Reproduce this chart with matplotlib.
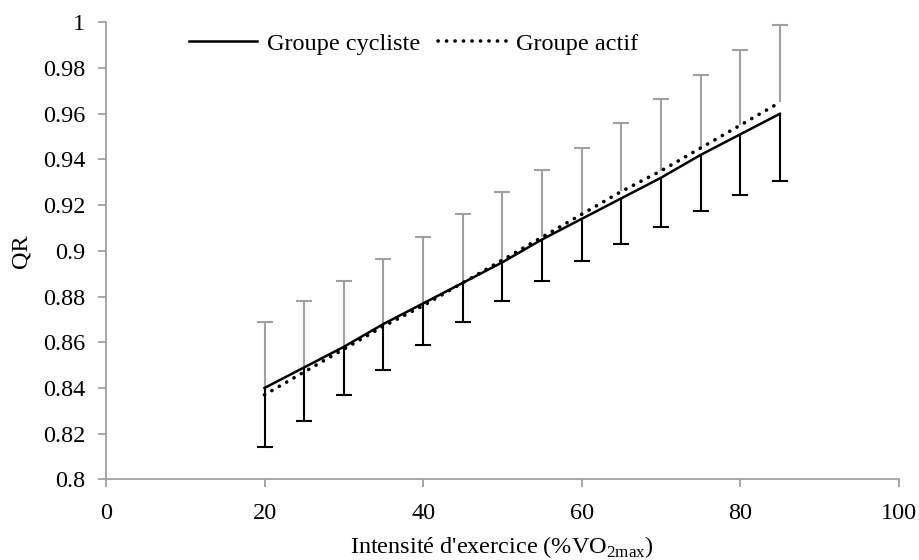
import matplotlib
matplotlib.use("Agg")

import matplotlib.pyplot as plt
from matplotlib.lines import Line2D

plt.rcParams["font.family"] = "Liberation Serif"
plt.rcParams["mathtext.fontset"] = "custom"
plt.rcParams["mathtext.rm"] = "Liberation Serif"

# Data
intensite = [20, 25, 30, 35, 40, 45, 50, 55, 60, 65, 70, 75, 80, 85]
qr_cycliste = [0.840, 0.849, 0.858, 0.868, 0.877, 0.886, 0.895,
               0.905, 0.914, 0.923, 0.932, 0.942, 0.951, 0.960]
qr_actif = [0.837, 0.847, 0.857, 0.867, 0.876, 0.886, 0.896,
            0.906, 0.916, 0.926, 0.935, 0.945, 0.955, 0.965]
sd_cycliste = [0.026, 0.0235, 0.021, 0.020, 0.018, 0.017, 0.017,
               0.018, 0.0185, 0.020, 0.0216, 0.0245, 0.0266, 0.0292]
sd_actif = [0.032, 0.031, 0.030, 0.0296, 0.030, 0.030, 0.0297,
            0.0294, 0.029, 0.030, 0.0315, 0.032, 0.033, 0.034]

fig = plt.figure(figsize=(9.19, 5.6), dpi=100)
ax = fig.add_axes([0.1153, 0.144, 0.8627, 0.816])

gray = "#A0A0A0"

# one-sided error bars: actif upward (gray), cycliste downward (black)
top_actif = [m + s for m, s in zip(qr_actif, sd_actif)]
bot_cycliste = [m - s for m, s in zip(qr_cycliste, sd_cycliste)]
ax.vlines(intensite, qr_actif, top_actif, color=gray, linewidth=1.5, zorder=2)
ax.plot(intensite, top_actif, linestyle="none", marker="_", markersize=12,
        markeredgewidth=1.5, color=gray, zorder=2)
ax.vlines(intensite, bot_cycliste, qr_cycliste, color="black", linewidth=1.5,
          zorder=2)
ax.plot(intensite, bot_cycliste, linestyle="none", marker="_", markersize=12,
        markeredgewidth=1.5, color="black", zorder=2)

ax.plot(intensite, qr_cycliste, color="black", linewidth=1.8, zorder=3)
ax.plot(intensite, qr_actif, color="black", linewidth=2.6,
        linestyle=(0, (0.05, 2.3)), dash_capstyle="round", zorder=3)

ax.set_xlim(0, 100)
ax.set_ylim(0.8, 1.0)
ax.set_xticks([0, 20, 40, 60, 80, 100])
ax.set_xticklabels(["0", "20", "40", "60", "80", "100"])
ax.set_yticks([0.8, 0.82, 0.84, 0.86, 0.88, 0.9, 0.92, 0.94, 0.96, 0.98, 1.0])
ax.set_yticklabels(["0.8", "0.82", "0.84", "0.86", "0.88", "0.9", "0.92",
                    "0.94", "0.96", "0.98", "1"])

for side in ["top", "right"]:
    ax.spines[side].set_visible(False)
for side in ["left", "bottom"]:
    ax.spines[side].set_color(gray)
    ax.spines[side].set_linewidth(1.3)
ax.tick_params(axis="both", direction="out", length=6, width=1.3,
               color=gray, labelsize=17.5, labelcolor="black")
ax.tick_params(axis="y", pad=9)
ax.tick_params(axis="x", pad=11)

ax.set_ylabel("QR", fontsize=17.5, labelpad=8)
ax.set_xlabel(r"Intensité d'exercice (%VO$_{\mathrm{2max}}$)", fontsize=17.5,
              labelpad=7)

handles = [
    Line2D([], [], color="black", linewidth=1.8),
    Line2D([], [], color="black", linewidth=2.6, linestyle=(0, (0.05, 2.3)),
           dash_capstyle="round"),
]
ax.legend(handles, ["Groupe cycliste", "Groupe actif"], ncol=2, frameon=False,
          fontsize=17.5, loc="center", bbox_to_anchor=(0.388, 0.953),
          handlelength=2.8, handletextpad=0.4, columnspacing=0.75)

fig.savefig("out.png", dpi=100)
